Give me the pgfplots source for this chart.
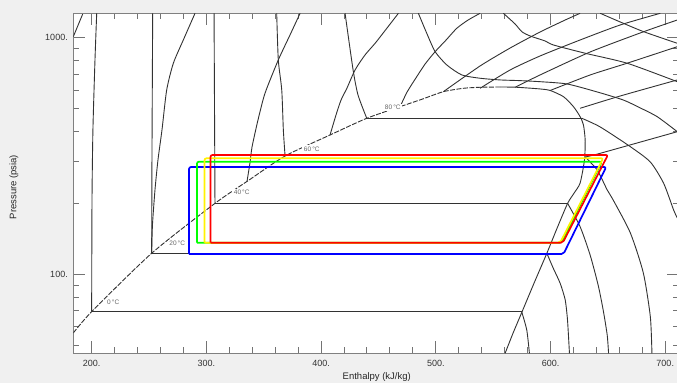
\documentclass[border=0pt]{standalone}
\usepackage{fontspec}
\setmainfont{Liberation Sans}
\usepackage{pgfplots}
\pgfplotsset{compat=1.18}
\definecolor{bgc}{RGB}{240,240,240}
\definecolor{lnc}{RGB}{50,50,50}
\begin{document}
\begin{tikzpicture}[x=1pt,y=1pt]
\fill[bgc] (0,0) rectangle (677,383);
\begin{axis}[
  at={(73.3pt,29.7pt)}, anchor=south west,
  scale only axis, width=605.7pt, height=340pt,
  xmin=184, xmax=712, ymode=log, ymin=46.35, ymax=1268,
  axis background/.style={fill=white},
  axis line style={black!50, line width=1.2pt},
  xtick={200,300,400,500,600,700}, xticklabels={200.,300.,400.,500.,600.,700.},
  minor xtick={220,240,260,280,320,340,360,380,420,440,460,480,520,540,560,580,620,640,660,680},
  ytick={100,1000}, yticklabels={100.,1000.},
  minor ytick={50,60,70,80,90,200,300,400,500,600,700,800,900},
  major tick length=12pt, minor tick length=6pt,
  every tick/.style={black!55, line width=1pt},
  tick label style={font=\fontsize{9}{10}\selectfont, text=black!80},
  xticklabel style={yshift=-3pt},
  yticklabel style={xshift=-2pt},
  xlabel={Enthalpy (kJ/kg)}, ylabel={Pressure (psia)},
  label style={font=\fontsize{9.5}{11}\selectfont, text=black!85},
  xlabel style={at={(axis description cs:0.501,-0.0697)}, anchor=center},
  ylabel style={at={(axis description cs:-0.098,0.489)}, anchor=center},
  iso/.style={lnc, line width=0.9pt, mark=none, smooth, tension=0.4},
  hz/.style={lnc, line width=1pt, mark=none},
]
% saturation dome: liquid side and vapour side
\addplot[iso, dash pattern=on 5pt off 1.5pt] coordinates {(184.0,56.5) (200,69.5) (252.3,122.7) (307.5,199.5) (335.4,246.8) (368.6,316.2) (407.8,388) (439.8,456.4) (468.9,511.1) (487.8,549.1) (506.6,591.4) (524.1,611.2) (538.6,617.2) (556.1,619.0)};
\addplot[iso] coordinates {(556.1,619.0) (570.6,617.2) (590.9,607.2) (599.7,598.3) (611.3,563.2) (620.0,511.1) (625.8,463.6) (628.7,427.6) (630.2,369.6) (629.6,304.2) (625.8,243.1) (620.6,220.6) (614.9,199.5) (605.8,157) (596.8,122.7) (585.7,91.9) (575.0,69.1) (567.4,56.5) (560.4,46.35)};
% two-phase isotherms
\addplot[hz] coordinates {(200,69.5) (575.0,69.5)};
\addplot[hz] coordinates {(252.3,122.7) (596.8,122.7)};
\addplot[hz] coordinates {(307.5,199.5) (614.9,199.5)};
\addplot[hz] coordinates {(368.6,316.2) (630.0,316.2)};
\addplot[hz] coordinates {(439.8,456.4) (627.3,456.4)};
% liquid isotherms
\addplot[iso] coordinates {(200,69.5) (200.3,206.1) (201.1,407.3) (202.9,805.2) (204.4,1268)};
\addplot[iso] coordinates {(252.3,122.7) (252.6,335.3) (253.2,1268)};
\addplot[iso] coordinates {(307.5,199.5) (306.7,1268)};
\addplot[iso] coordinates {(368.6,316.2) (367.1,407.3) (365.7,601.2) (362.7,805.2) (361.3,1268)};
\addplot[iso] coordinates {(439.8,456.4) (432.2,572.4) (427.9,730.5) (420.9,1268)};
\addplot[iso] coordinates {(184,1009.7) (192.2,1259)};
% liquid-region constant-property lines
\addplot[iso] coordinates {(252.3,122.7) (253.0,161.6) (255.2,227.2) (257.8,304.2) (261.3,407.3) (265.4,601.2) (271.2,779.7) (279.9,978) (290.1,1268)};
\addplot[iso] coordinates {(335.4,246.8) (338.0,295.4) (339.8,345.2) (345.0,449) (351.1,582.1) (362.7,805.2) (372.9,1026.6) (381.7,1268)};
\addplot[iso] coordinates {(407.8,388) (413.0,471.3) (417.4,545.4) (422.6,613) (429.6,730.5) (438.3,845.4) (447.1,947) (457.5,1099) (467.4,1268)};
\addplot[iso] coordinates {(468.9,511.1) (475.0,589.7) (483.4,684.5) (490.7,774.4) (499.4,872.9) (509.0,978) (518.3,1096) (528.2,1188) (538.6,1268)};
% supercritical / superheated isotherms
\addplot[iso] coordinates {(484.8,1268) (492.1,1044) (499.4,872.9) (509.6,766.9) (522.7,695.9) (538.6,673.9) (556.1,662.9) (573.5,658.4) (590.9,651.7) (614.5,637.3) (640.7,589.7) (663.4,545.4) (678.3,504.6) (693.0,463.6) (710.5,400.6)};
\addplot[iso] coordinates {(558.9,1268) (569.1,1143) (575.0,1060) (582.2,1016.7) (595.3,968.5) (602.5,931.6) (630.2,859.5) (666.9,779.7) (710.5,651.7)};
\addplot[iso] coordinates {(643.3,1268) (660.8,1165) (681.2,1060) (710.5,947)};
\addplot[iso] coordinates {(627.3,456.4) (643.3,419.5) (669.6,346.2) (687.0,298.3) (698.6,242.5) (707.3,187) (710.5,173)};
\addplot[iso] coordinates {(630.2,313.2) (640.7,275.9) (649.4,227.2) (654.6,206.1) (669.6,149.5) (680.9,101.3) (687.0,66.2) (688.4,46.35)};
\addplot[iso] coordinates {(614.9,199.5) (625.8,158.9) (634.5,120.7) (641.5,90.1) (645.9,70.6) (649.4,55.4) (650.6,46.35)};
\addplot[iso] coordinates {(596.8,122.7) (602.3,106.3) (608.4,91.6) (612.8,77.9) (614.8,64.1) (616.5,46.35)};
\addplot[iso] coordinates {(575.0,69.1) (579.3,58.1) (581.6,46.35)};
% isentropes
\addplot[iso] coordinates {(506.6,591.4) (538.6,759.5) (564.8,904.4) (590.9,1057) (612.8,1188) (625.8,1268)};
\addplot[iso] coordinates {(538.6,611.2) (564.8,730.5) (590.9,837.1) (625.8,978) (660.8,1132) (695.7,1268)};
\addplot[iso] coordinates {(569.1,617.2) (590.9,695.9) (634.6,870.5) (681.2,1060) (710.5,1188)};
\addplot[iso] coordinates {(599.7,598.3) (634.6,695.9) (666.6,779.7) (710.5,916)};
\addplot[iso] coordinates {(625.8,503.1) (660.8,567.1) (710.5,662.9)};
\addplot[iso] coordinates {(630.2,313.2) (643.3,324.6) (710.5,400.6)};
% cycles
\addplot[blue, line width=1.7pt, mark=none, rounded corners=2pt] coordinates {(284.9,121.8) (611.3,121.8) (648.5,284.1) (284.9,284.1) (284.9,121.8)};
\addplot[green, line width=1.7pt, mark=none, rounded corners=2pt] coordinates {(291.8,136) (609.4,136) (644.8,299.2) (291.8,299.2) (291.8,136)};
\addplot[yellow, line width=1.7pt, mark=none, rounded corners=2pt] coordinates {(298.4,136) (608.4,136) (645.9,309.3) (298.4,309.3) (298.4,136)};
\addplot[red, line width=1.7pt, mark=none, rounded corners=2pt] coordinates {(303.6,136) (610.7,136) (650.0,319.3) (303.6,319.3) (303.6,136)};
% labels
\begin{scope}[every node/.style={fill=white, inner xsep=1.6pt, inner ysep=1.2pt, font=\fontsize{6.5}{7}\selectfont, text=black!60}]
\node at (218.8,76.1) {0\,°C};
\node at (274.6,135.2) {20\,°C};
\node at (330.8,221.2) {40\,°C};
\node at (391.9,338.6) {60\,°C};
\node at (462.5,508) {80\,°C};
\end{scope}
\end{axis}
\pgfresetboundingbox
\useasboundingbox (0,0) rectangle (677,383);
\end{tikzpicture}
\end{document}
